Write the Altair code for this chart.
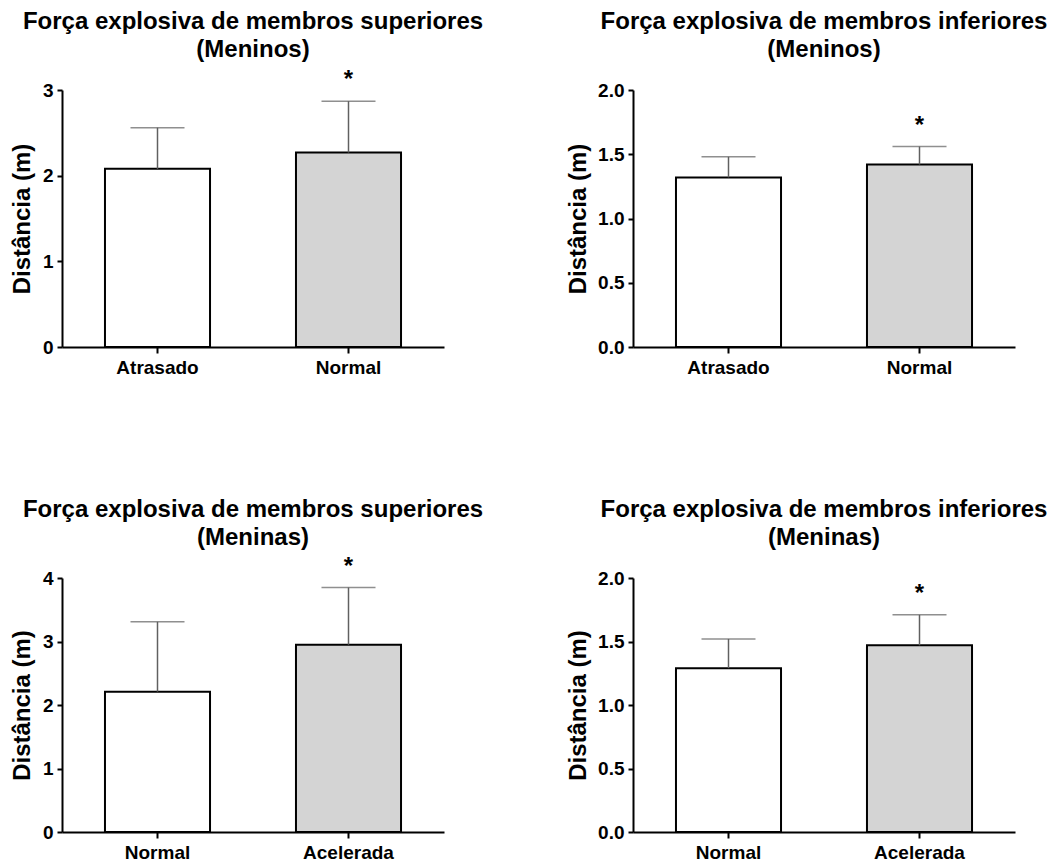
import altair as alt
import pandas as pd

FONT = "Liberation Sans"

# Panel data (mean and upper error value)
p1_title = ["Força explosiva de membros superiores", "(Meninos)"]
p1_cats = ["Atrasado", "Normal"]
p1_mean = [2.08, 2.27]
p1_upper = [2.56, 2.87]

p2_title = ["Força explosiva de membros inferiores", "(Meninos)"]
p2_cats = ["Atrasado", "Normal"]
p2_mean = [1.32, 1.42]
p2_upper = [1.48, 1.56]

p3_title = ["Força explosiva de membros superiores", "(Meninas)"]
p3_cats = ["Normal", "Acelerada"]
p3_mean = [2.21, 2.95]
p3_upper = [3.31, 3.85]

p4_title = ["Força explosiva de membros inferiores", "(Meninas)"]
p4_cats = ["Normal", "Acelerada"]
p4_mean = [1.29, 1.47]
p4_upper = [1.52, 1.71]

sig = ["", "*"]
fills = ["white", "#d4d4d4"]

y_ticks_a = [0, 1, 2, 3]
y_ticks_b = [0, 0.5, 1.0, 1.5, 2.0]
y_ticks_c = [0, 1, 2, 3, 4]

W = 382


def panel(title, cats, mean, upper, ymax, ticks, fmt, height, title_x):
    df = pd.DataFrame({"cat": cats, "mean": mean, "upper": upper,
                       "fill": fills, "sig": sig})
    base = alt.Chart(df)
    x = alt.X("cat:N", sort=cats,
              scale=alt.Scale(paddingInner=0.45, paddingOuter=0.225),
              axis=alt.Axis(title=None, labelAngle=0, labelFont=FONT,
                            labelFontSize=19, labelFontWeight="bold",
                            labelColor="black", domainColor="black",
                            domainWidth=2, tickColor="black", tickWidth=2,
                            tickSize=6, labelPadding=5))
    yscale = alt.Scale(domain=[0, ymax], nice=False)
    yaxis = alt.Axis(title="Distância (m)", values=ticks, format=fmt,
                     grid=False, labelFont=FONT, labelFontSize=19,
                     labelFontWeight="bold", labelColor="black",
                     domainColor="black", domainWidth=2, tickColor="black",
                     tickWidth=2, tickSize=5, labelPadding=4,
                     titleFont=FONT, titleFontSize=24, titleFontWeight="bold",
                     titleColor="black", titleX=title_x, titleY=height / 2,
                     titleAngle=270, titleAlign="center",
                     titleBaseline="middle")
    bars = base.mark_bar(stroke="black", strokeWidth=2).encode(
        x=x,
        y=alt.Y("mean:Q", scale=yscale, axis=yaxis),
        fill=alt.Fill("fill:N", scale=None),
    )
    err = base.mark_rule(color="#606060", strokeWidth=1.5).encode(
        x=alt.X("cat:N", sort=cats),
        y=alt.Y("mean:Q"),
        y2="upper:Q",
    )
    cap = base.mark_tick(color="#606060", thickness=1.5, size=54,
                         orient="horizontal").encode(
        x=alt.X("cat:N", sort=cats),
        y=alt.Y("upper:Q"),
    )
    star = base.mark_text(font=FONT, fontSize=24, fontWeight="bold",
                          color="black", baseline="alphabetic",
                          dy=-14).encode(
        x=alt.X("cat:N", sort=cats),
        y=alt.Y("upper:Q"),
        text="sig:N",
    )
    tdf = pd.DataFrame({"line": title, "pos": [-68, -40]})
    ttl = alt.Chart(tdf).mark_text(font=FONT, fontSize=24, fontWeight="bold",
                                   color="black", baseline="middle",
                                   align="center").encode(
        x=alt.value(W / 2),
        y=alt.Y("pos:Q", scale=None),
        text="line:N",
    )
    return alt.layer(bars, err, cap, star, ttl).properties(
        width=W, height=height,
    )


c1 = panel(p1_title, p1_cats, p1_mean, p1_upper, 3, y_ticks_a, "d", 257, -40)
c2 = panel(p2_title, p2_cats, p2_mean, p2_upper, 2, y_ticks_b, ".1f", 257, -55)
c3 = panel(p3_title, p3_cats, p3_mean, p3_upper, 4, y_ticks_c, "d", 254, -40)
c4 = panel(p4_title, p4_cats, p4_mean, p4_upper, 2, y_ticks_b, ".1f", 254, -55)

chart = alt.concat(c1, c2, c3, c4, columns=2,
                   spacing=alt.RowColnumber(row=231, column=189),
                   bounds="flush").properties(
    padding={"left": 2, "top": 2, "right": 0, "bottom": 0},
    background="white",
).configure_view(stroke=None)

chart.save("out.html", embed_options={"renderer": "svg", "actions": False})
